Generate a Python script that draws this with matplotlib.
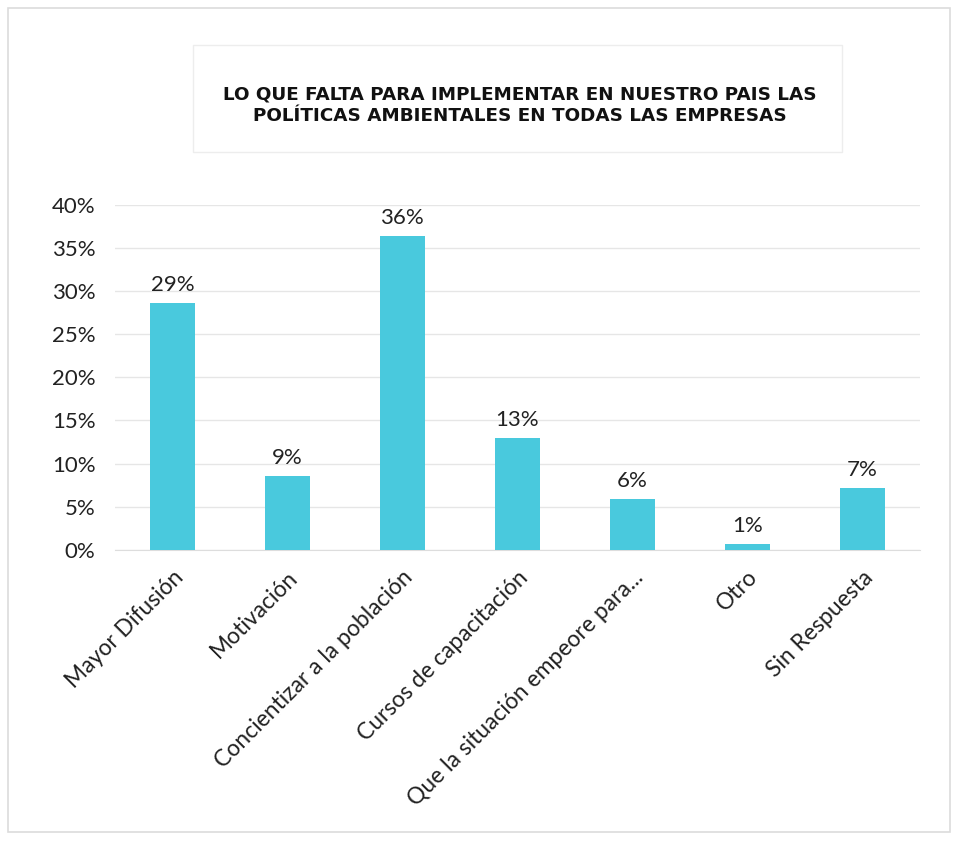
import matplotlib
matplotlib.use("Agg")
import matplotlib.pyplot as plt
from matplotlib.patches import Rectangle

categories = ["Mayor Difusión", "Motivación", "Concientizar a la población",
              "Cursos de capacitación", "Que la situación empeore para...",
              "Otro", "Sin Respuesta"]
values = [0.286, 0.086, 0.364, 0.130, 0.059, 0.007, 0.072]
labels = ["29%", "9%", "36%", "13%", "6%", "1%", "7%"]
yticks = [0, 0.05, 0.10, 0.15, 0.20, 0.25, 0.30, 0.35, 0.40]
ytick_labels = ["0%", "5%", "10%", "15%", "20%", "25%", "30%", "35%", "40%"]
title = "LO QUE FALTA PARA IMPLEMENTAR EN NUESTRO PAIS LAS\nPOLÍTICAS AMBIENTALES EN TODAS LAS EMPRESAS"

fig = plt.figure(figsize=(9.58, 8.42), dpi=100)
fig.patch.set_facecolor("white")

# outer border
fig.add_artist(Rectangle((0.008, 0.012), 0.984, 0.978, transform=fig.transFigure,
                         fill=False, edgecolor="#dcdcdc", linewidth=1.2))
# title box
fig.add_artist(Rectangle((0.2015, 0.8195), 0.6775, 0.127, transform=fig.transFigure,
                         fill=False, edgecolor="#ededed", linewidth=1.0))
fig.text(0.543, 0.875, title, ha="center", va="center", fontsize=13.2,
         fontweight="bold", family="DejaVu Sans", color="#111111", linespacing=1.3)

ax = fig.add_axes([0.120, 0.347, 0.840, 0.410])
x = range(len(categories))
ax.bar(x, values, width=0.39, color="#49c9dd", zorder=3)
for xi, v, lab in zip(x, values, labels):
    ax.text(xi, v + 0.009, lab, ha="center", va="bottom", fontsize=16,
            family="Lato", color="#222222")

ax.set_ylim(0, 0.40)
ax.set_xlim(-0.5, len(categories) - 0.5)
ax.set_yticks(yticks)
ax.set_yticklabels(ytick_labels, family="Lato", fontsize=16, color="#222222")
ax.set_xticks(list(x))
ax.set_xticklabels(categories, rotation=45, ha="right", rotation_mode="anchor",
                   family="Lato", fontsize=16.5, color="#222222")
ax.grid(axis="y", color="#e6e6e6", linewidth=1, zorder=0)
for s in ["top", "right", "left"]:
    ax.spines[s].set_visible(False)
ax.spines["bottom"].set_color("#dddddd")
ax.tick_params(axis="y", length=0, pad=14)
ax.tick_params(axis="x", length=0, pad=12)

fig.savefig("out.png", dpi=100, facecolor="white")
